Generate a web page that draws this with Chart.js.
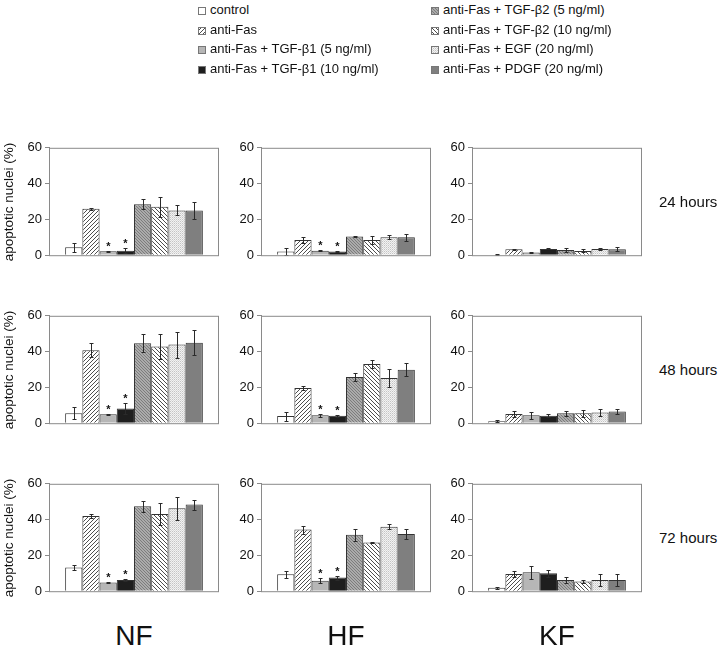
<!DOCTYPE html>
<html>
<head>
<meta charset="utf-8">
<script src="https://cdn.jsdelivr.net/npm/chart.js@4"></script>
<style>
  body { margin: 0; width: 720px; height: 646px; background: #fff; position: relative; overflow: hidden;
         font-family: 'Liberation Sans', Arial, sans-serif; color: #111; }
  .abs { position: absolute; white-space: nowrap; }
  .leg { position: absolute; font-size: 13px; line-height: 16px; white-space: nowrap; }
  .leg canvas { vertical-align: -1px; margin-right: 4px; }
</style>
</head>
<body>
<script>
const grupos = ['NF', 'HF', 'KF'];
const tiempos = ['24 hours', '48 hours', '72 hours'];
const tratamientos = [
  'control',
  'anti-Fas',
  'anti-Fas + TGF-β1 (5 ng/ml)',
  'anti-Fas + TGF-β1 (10 ng/ml)',
  'anti-Fas + TGF-β2 (5 ng/ml)',
  'anti-Fas + TGF-β2 (10 ng/ml)',
  'anti-Fas + EGF (20 ng/ml)',
  'anti-Fas + PDGF (20 ng/ml)'
];
const yTicks = [0, 20, 40, 60];

// valores por panel (% nucleos apoptoticos) y su error
const nf24 = [4.5, 26, 2.2, 2.5, 28.5, 27, 25, 25];
const nf24Err = [2.5, 0.6, 0.4, 1.5, 2.8, 5.5, 2.8, 4.5];
const hf24 = [2, 8.5, 2.5, 2, 10.5, 8.5, 10, 10];
const hf24Err = [1.8, 1.5, 0.4, 0.4, 0.5, 2, 1.2, 1.8];
const kf24 = [0.3, 3.3, 1.5, 3.5, 2.9, 2.4, 3.5, 3.3];
const kf24Err = [0.2, 0.3, 0.5, 0.3, 0.9, 0.8, 0.5, 1.2];
const nf48 = [5.5, 40.8, 5, 8.2, 44.6, 42.8, 43.9, 45];
const nf48Err = [3.3, 3.8, 0.3, 3.3, 5, 7, 7.3, 7];
const hf48 = [4, 19.7, 4.4, 4.2, 25.8, 33.1, 25.2, 29.8];
const hf48Err = [2.5, 1, 1, 0.5, 2.4, 2, 5, 3.7];
const kf48 = [1.1, 5.1, 4.4, 4.2, 5.5, 5.5, 6, 6.6];
const kf48Err = [0.6, 1.8, 2, 0.8, 1.2, 1.8, 1.8, 1.5];
const nf72 = [13.3, 42, 4.8, 6.3, 47.5, 43.1, 46.4, 48.4];
const nf72Err = [1.5, 1.2, 0.3, 0.7, 3, 6, 6.5, 2.8];
const hf72 = [9.4, 34.4, 5.9, 7.6, 31.6, 27.2, 36, 32];
const hf72Err = [1.8, 2.2, 1.2, 1.1, 3.3, 0.5, 1.5, 3];
const kf72 = [1.9, 9.6, 10.6, 10, 6.3, 5.4, 6.3, 6.3];
const kf72Err = [0.6, 1.8, 3.7, 2, 1.7, 0.6, 3.3, 3.5];

const conAsterisco = [2, 3];
const gruposConAsterisco = ['NF', 'HF'];

const paneles = [
  [[nf24, nf24Err], [hf24, hf24Err], [kf24, kf24Err]],
  [[nf48, nf48Err], [hf48, hf48Err], [kf48, kf48Err]],
  [[nf72, nf72Err], [hf72, hf72Err], [kf72, kf72Err]]
];

const FUENTE = "'Liberation Sans', Arial, sans-serif";
Chart.defaults.font.family = FUENTE;

function hacerPatron(tipo) {
  const c = document.createElement('canvas');
  const ctx = c.getContext('2d');
  if (tipo === 'raya' || tipo === 'contraraya') {
    c.width = 4; c.height = 4;
    ctx.fillStyle = '#fff'; ctx.fillRect(0, 0, 4, 4);
    ctx.strokeStyle = '#3a3a3a'; ctx.lineWidth = 0.9;
    ctx.beginPath();
    if (tipo === 'raya') {
      ctx.moveTo(0, 4); ctx.lineTo(4, 0);
      ctx.moveTo(-1, 1); ctx.lineTo(1, -1);
      ctx.moveTo(3, 5); ctx.lineTo(5, 3);
    } else {
      ctx.moveTo(0, 0); ctx.lineTo(4, 4);
      ctx.moveTo(-1, 3); ctx.lineTo(1, 5);
      ctx.moveTo(3, -1); ctx.lineTo(5, 1);
    }
    ctx.stroke();
  } else if (tipo === 'trama') {
    c.width = 3; c.height = 3;
    ctx.fillStyle = '#ababab'; ctx.fillRect(0, 0, 3, 3);
    ctx.fillStyle = '#7c7c7c';
    ctx.fillRect(0, 0, 1, 1); ctx.fillRect(1, 1, 1, 1); ctx.fillRect(2, 2, 1, 1);
  } else if (tipo === 'puntos') {
    c.width = 2; c.height = 2;
    ctx.fillStyle = '#f2f2f2'; ctx.fillRect(0, 0, 2, 2);
    ctx.fillStyle = '#c4c4c4'; ctx.fillRect(0, 0, 1, 1);
    ctx.fillStyle = '#dadada'; ctx.fillRect(1, 1, 1, 1);
  }
  return ctx.createPattern(c, 'repeat');
}

const rellenos = [
  '#ffffff',
  hacerPatron('raya'),
  '#b6b6b6',
  '#1e1e1e',
  hacerPatron('trama'),
  hacerPatron('contraraya'),
  hacerPatron('puntos'),
  '#7f7f7f'
];

const barrasError = {
  id: 'barrasError',
  afterDatasetsDraw(chart) {
    const ctx = chart.ctx;
    const y = chart.scales.y;
    ctx.save();
    chart.data.datasets.forEach((ds, i) => {
      const bar = chart.getDatasetMeta(i).data[0];
      const v = ds.data[0], e = ds.err;
      const x = Math.round(bar.x) + 0.5;
      const yt = Math.round(y.getPixelForValue(v + e)) + 0.5;
      const yb = Math.round(y.getPixelForValue(Math.max(0, v - e))) + 0.5;
      ctx.strokeStyle = '#2a2a2a';
      ctx.lineWidth = 1;
      ctx.beginPath();
      ctx.moveTo(x, yt); ctx.lineTo(x, yb);
      ctx.moveTo(x - 2, yt); ctx.lineTo(x + 2, yt);
      ctx.moveTo(x - 2, yb); ctx.lineTo(x + 2, yb);
      ctx.stroke();
      if (ds.asterisco) {
        ctx.fillStyle = '#111';
        ctx.font = 'bold 11px ' + FUENTE;
        ctx.textAlign = 'center';
        ctx.textBaseline = 'alphabetic';
        ctx.fillText('*', x, yt - 2);
      }
    });
    const a = chart.chartArea;
    ctx.strokeStyle = '#8a8a8a';
    ctx.lineWidth = 1;
    ctx.strokeRect(a.left + 0.5, a.top + 0.5, a.right - a.left - 1, a.bottom - a.top);
    ctx.restore();
  }
};

const izquierdas = [49, 261, 472];
const arribas = [147, 315, 483];
const ANCHO = 170, ALTO = 110, EJE = 45;

function crearPanel(fila, col) {
  const [valores, errores] = paneles[fila][col];
  const cv = document.createElement('canvas');
  cv.width = EJE + ANCHO + 3;
  cv.height = ALTO + 10 + 9;
  cv.style.position = 'absolute';
  cv.style.left = (izquierdas[col] - EJE) + 'px';
  cv.style.top = (arribas[fila] - 10) + 'px';
  document.body.appendChild(cv);

  const datasets = tratamientos.map((t, i) => ({
    label: t,
    data: [valores[i]],
    err: errores[i],
    asterisco: gruposConAsterisco.includes(grupos[col]) && conAsterisco.includes(i),
    backgroundColor: rellenos[i],
    borderColor: '#333',
    borderWidth: 1,
    categoryPercentage: 0.81,
    barPercentage: 1
  }));

  return new Chart(cv.getContext('2d'), {
    type: 'bar',
    data: { labels: [grupos[col]], datasets: datasets },
    options: {
      responsive: false,
      animation: false,
      devicePixelRatio: 1,
      layout: { padding: { top: 10, right: 3, bottom: 9, left: 0 } },
      plugins: { legend: { display: false }, tooltip: { enabled: false } },
      scales: {
        x: { display: false },
        y: {
          min: 0, max: 60,
          afterFit: (s) => { s.width = EJE; },
          afterBuildTicks: (s) => { s.ticks = yTicks.map(v => ({ value: v })); },
          ticks: { color: '#111', font: { size: 13 }, padding: 3 },
          grid: { drawOnChartArea: false, drawTicks: true, tickLength: 4, color: '#8a8a8a' },
          border: { color: '#8a8a8a' }
        }
      }
    },
    plugins: [barrasError]
  });
}

for (let f = 0; f < 3; f++) {
  for (let c = 0; c < 3; c++) crearPanel(f, c);
}

// titulo del eje y en la primera columna
arribas.forEach(t => {
  const d = document.createElement('div');
  d.className = 'abs';
  d.textContent = 'apoptotic nuclei (%)';
  d.style.fontSize = '13.5px';
  d.style.left = '8px';
  d.style.top = (t + ALTO / 2) + 'px';
  d.style.transform = 'translate(-50%, -50%) rotate(-90deg)';
  document.body.appendChild(d);
});

// etiquetas de tiempo a la derecha
tiempos.forEach((t, i) => {
  const d = document.createElement('div');
  d.className = 'abs';
  d.textContent = t;
  d.style.fontSize = '15px';
  d.style.left = '659px';
  d.style.top = (arribas[i] + ALTO / 2 - 9) + 'px';
  document.body.appendChild(d);
});

// nombres de grupo abajo
grupos.forEach((g, i) => {
  const d = document.createElement('div');
  d.className = 'abs';
  d.textContent = g;
  d.style.fontSize = '28px';
  d.style.left = (izquierdas[i] + ANCHO / 2) + 'px';
  d.style.top = '636px';
  d.style.transform = 'translate(-50%, -50%)';
  document.body.appendChild(d);
});

// leyenda en dos columnas
const legX = [198, 431];
const legY = [2, 21.5, 41, 60.5];
tratamientos.forEach((t, i) => {
  const d = document.createElement('div');
  d.className = 'leg';
  d.style.left = legX[Math.floor(i / 4)] + 'px';
  d.style.top = legY[i % 4] + 'px';
  const sw = document.createElement('canvas');
  sw.width = 8; sw.height = 8;
  const sctx = sw.getContext('2d');
  sctx.fillStyle = rellenos[i];
  sctx.fillRect(0, 0, 8, 8);
  sctx.strokeStyle = '#777';
  sctx.strokeRect(0.5, 0.5, 7, 7);
  d.appendChild(sw);
  d.appendChild(document.createTextNode(t));
  document.body.appendChild(d);
});
</script>
</body>
</html>
